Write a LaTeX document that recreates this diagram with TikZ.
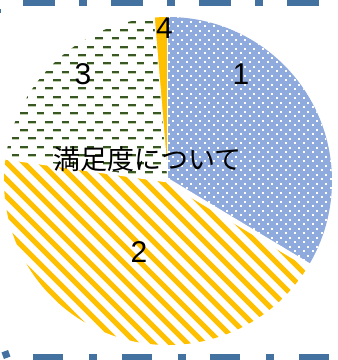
\documentclass[tikz,border=0pt]{standalone}
\usepackage{fontspec}
\setmainfont{Liberation Sans}
\newfontfamily\jpfont{Noto Sans CJK JP}
\definecolor{framecol}{RGB}{68,114,160}
\definecolor{dotblue}{RGB}{143,170,220}
\definecolor{gold}{RGB}{255,192,0}
\definecolor{dashgreen}{RGB}{56,87,35}
\definecolor{palegreen}{RGB}{190,205,170}

\begin{document}
\begin{tikzpicture}[x=1pt, y=1pt, line cap=butt,
    frame/.style={framecol, line width=12},
    sep/.style={white, line width=#1},
    stripe/.style={gold, line width=5.2},
    dashrow/.style={dashgreen, line width=2, dash pattern=on 7.7 off 8.967},
    dashshade/.style={palegreen, line width=1, dash pattern=on 7.7 off 8.967},
    num/.style={font=\fontsize{30}{30}\selectfont, inner sep=0}]
    \useasboundingbox (0,0) rectangle (338,360);
    \coordinate (c) at (168,179);

    % frame pieces
    \draw[frame, dash pattern=on 32 off 24 on 8 off 24] (22.7,360) -- (322,360);
    \draw[frame, line width=13, dash pattern=on 30 off 26 on 8 off 24.5] (33.3,0) -- (330,0);
    \fill[framecol, rotate around={20:(6,5.5)}] (2.5,2) rectangle (9.5,9);
    \fill[framecol] (0,347.3) rectangle (1,351);

    % slice 1
    \begin{scope}
        \clip (c) -- ++(90:164) arc[start angle=90, end angle=-31, radius=164] -- cycle;
        \fill[dotblue] (c) circle (170);
        \foreach \i in {0,...,19} \foreach \j in {0,...,29} {
            \fill[white] (168+9*\i, 90+9*\j) rectangle ++(1.7,1.7);
            \fill[white] (172.5+9*\i, 94.5+9*\j) rectangle ++(1.7,1.7);
        }
    \end{scope}

    % slice 2
    \begin{scope}
        \clip (c) -- ++(-31:164) arc[start angle=-31, end angle=-188, radius=164] -- cycle;
        \foreach \k in {0,17,...,540} \draw[stripe] (\k,0) -- ++(-320,320);
    \end{scope}

    % slice 3
    \begin{scope}
        \clip (c) -- ++(172:164) arc[start angle=172, end angle=94.8, radius=164] -- cycle;
        \foreach \m in {-11,...,10} {
            \pgfmathsetmacro{\yy}{255-8.333*\m}
            \pgfmathsetmacro{\xs}{mod(\m,2)==0 ? -4.97 : -13.3}
            \draw[dashshade] (\xs,\yy-1.6) -- (175,\yy-1.6);
            \draw[dashrow] (\xs,\yy) -- (175,\yy);
        }
    \end{scope}

    % slice 4
    \fill[gold] (c) -- ++(90:164) arc[start angle=90, end angle=94.8, radius=164] -- cycle;

    \draw[sep=5] (c) -- ++(-31:168);
    \draw[sep=3] (c) -- ++(172:168);
    \draw[sep=1] (c) -- ++(90:168);
    \draw[sep=1] (c) -- ++(94.8:168);

    \node[num] (one) at (241,286) {1};
    \node[num] (two) at (139,108) {2};
    \node[num] (three) at (83,286) {3};
    \node[num] (four) at (164.5,331.5) {4};
    \node[font=\jpfont\fontsize{27}{27}\selectfont, inner sep=0] (title) at (147.5,201) {満足度について};
\end{tikzpicture}
\end{document}
